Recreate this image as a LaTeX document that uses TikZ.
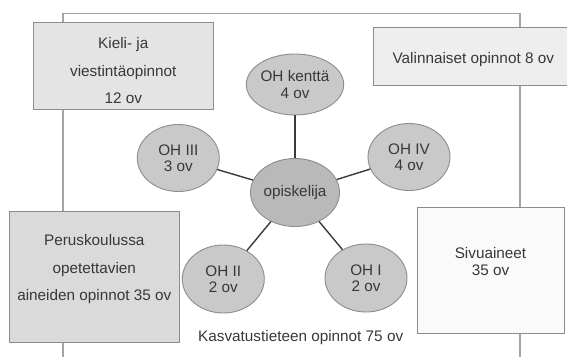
\documentclass[tikz,border=0pt]{standalone}
\usepackage{fontspec}
\setmainfont{Liberation Sans}
\usetikzlibrary{shapes.geometric}
\definecolor{framegray}{HTML}{A4A4A4}
\definecolor{boxline}{HTML}{8C8C8C}
\definecolor{ink}{HTML}{383838}
\definecolor{linkcol}{HTML}{3A3A3A}
\definecolor{kielifill}{HTML}{E4E4E4}
\definecolor{valfill}{HTML}{EEEEEE}
\definecolor{perusfill}{HTML}{DADADA}
\definecolor{sivufill}{HTML}{FAFAFA}
\definecolor{ohfill}{HTML}{C9C9C9}
\definecolor{opifill}{HTML}{B9B9B9}
\begin{document}
\begin{tikzpicture}[x=1pt,y=-1pt,
    box/.style={rectangle, draw=boxline, line width=0.9pt, inner sep=0pt},
    txt/.style={text=ink, align=center, font=\fontsize{15.3}{27.5}\selectfont},
    oh/.style={ellipse, draw=boxline, line width=0.9pt, fill=ohfill, inner sep=0pt,
        minimum width=82pt, minimum height=67pt, text=ink, align=center,
        font=\fontsize{15.3}{16.5}\selectfont},
    link/.style={draw=linkcol, line width=1.4pt}]
    \useasboundingbox (0,0) rectangle (567,356);
    % frame
    \draw [framegray, line width=1.3pt] (63,360) -- (63,13.3) -- (520,13.3) -- (520,360);
    % boxes
    \node [box, fill=kielifill, minimum width=180pt, minimum height=86.6pt,
        label={[txt, yshift=-4.8pt]center:Kieli- ja\\viestintäopinnot\\12 ov}] (kieli) at (123.3,66) {};
    \node [box, fill=valfill, minimum width=200pt, minimum height=57.7pt,
        label={[txt, yshift=-3.4pt]center:Valinnaiset opinnot 8 ov}] (valin) at (473.3,56.2) {};
    \node [box, fill=perusfill, minimum width=170.5pt, minimum height=130.8pt,
        label={[txt, yshift=7.5pt]center:Peruskoulussa\\opetettavien\\aineiden opinnot 35 ov}] (perus) at (94.3,277) {};
    \node [box, fill=sivufill, minimum width=147pt, minimum height=126pt,
        label={[txt, font=\fontsize{15.3}{17.7}\selectfont, yshift=8.6pt]center:Sivuaineet\\35 ov}] (sivu) at (490.5,270) {};
    % circles
    \node [oh, fill=opifill, minimum width=83pt, minimum height=68pt] (opi) at (295,192.5) {opiskelija};
    \node [oh, minimum height=61pt] (kentta) at (295,84.5) {OH kenttä\\4 ov};
    \node [oh] (oh3) at (178.3,158) {OH III\\3 ov};
    \node [oh] (oh4) at (409,157) {OH IV\\4 ov};
    \node [oh, minimum height=68pt] (oh2) at (223.3,279) {OH II\\2 ov};
    \node [oh, minimum height=68pt] (oh1) at (366,278) {OH I\\2 ov};
    % links
    \draw [link] (opi) -- (kentta);
    \draw [link] (opi) -- (oh3);
    \draw [link] (opi) -- (oh4);
    \draw [link] (opi) -- (oh2);
    \draw [link] (opi) -- (oh1);
    % title
    \node [txt, anchor=base] (kasv) at (300.7,341.7) {Kasvatustieteen opinnot 75 ov};
\end{tikzpicture}
\end{document}
